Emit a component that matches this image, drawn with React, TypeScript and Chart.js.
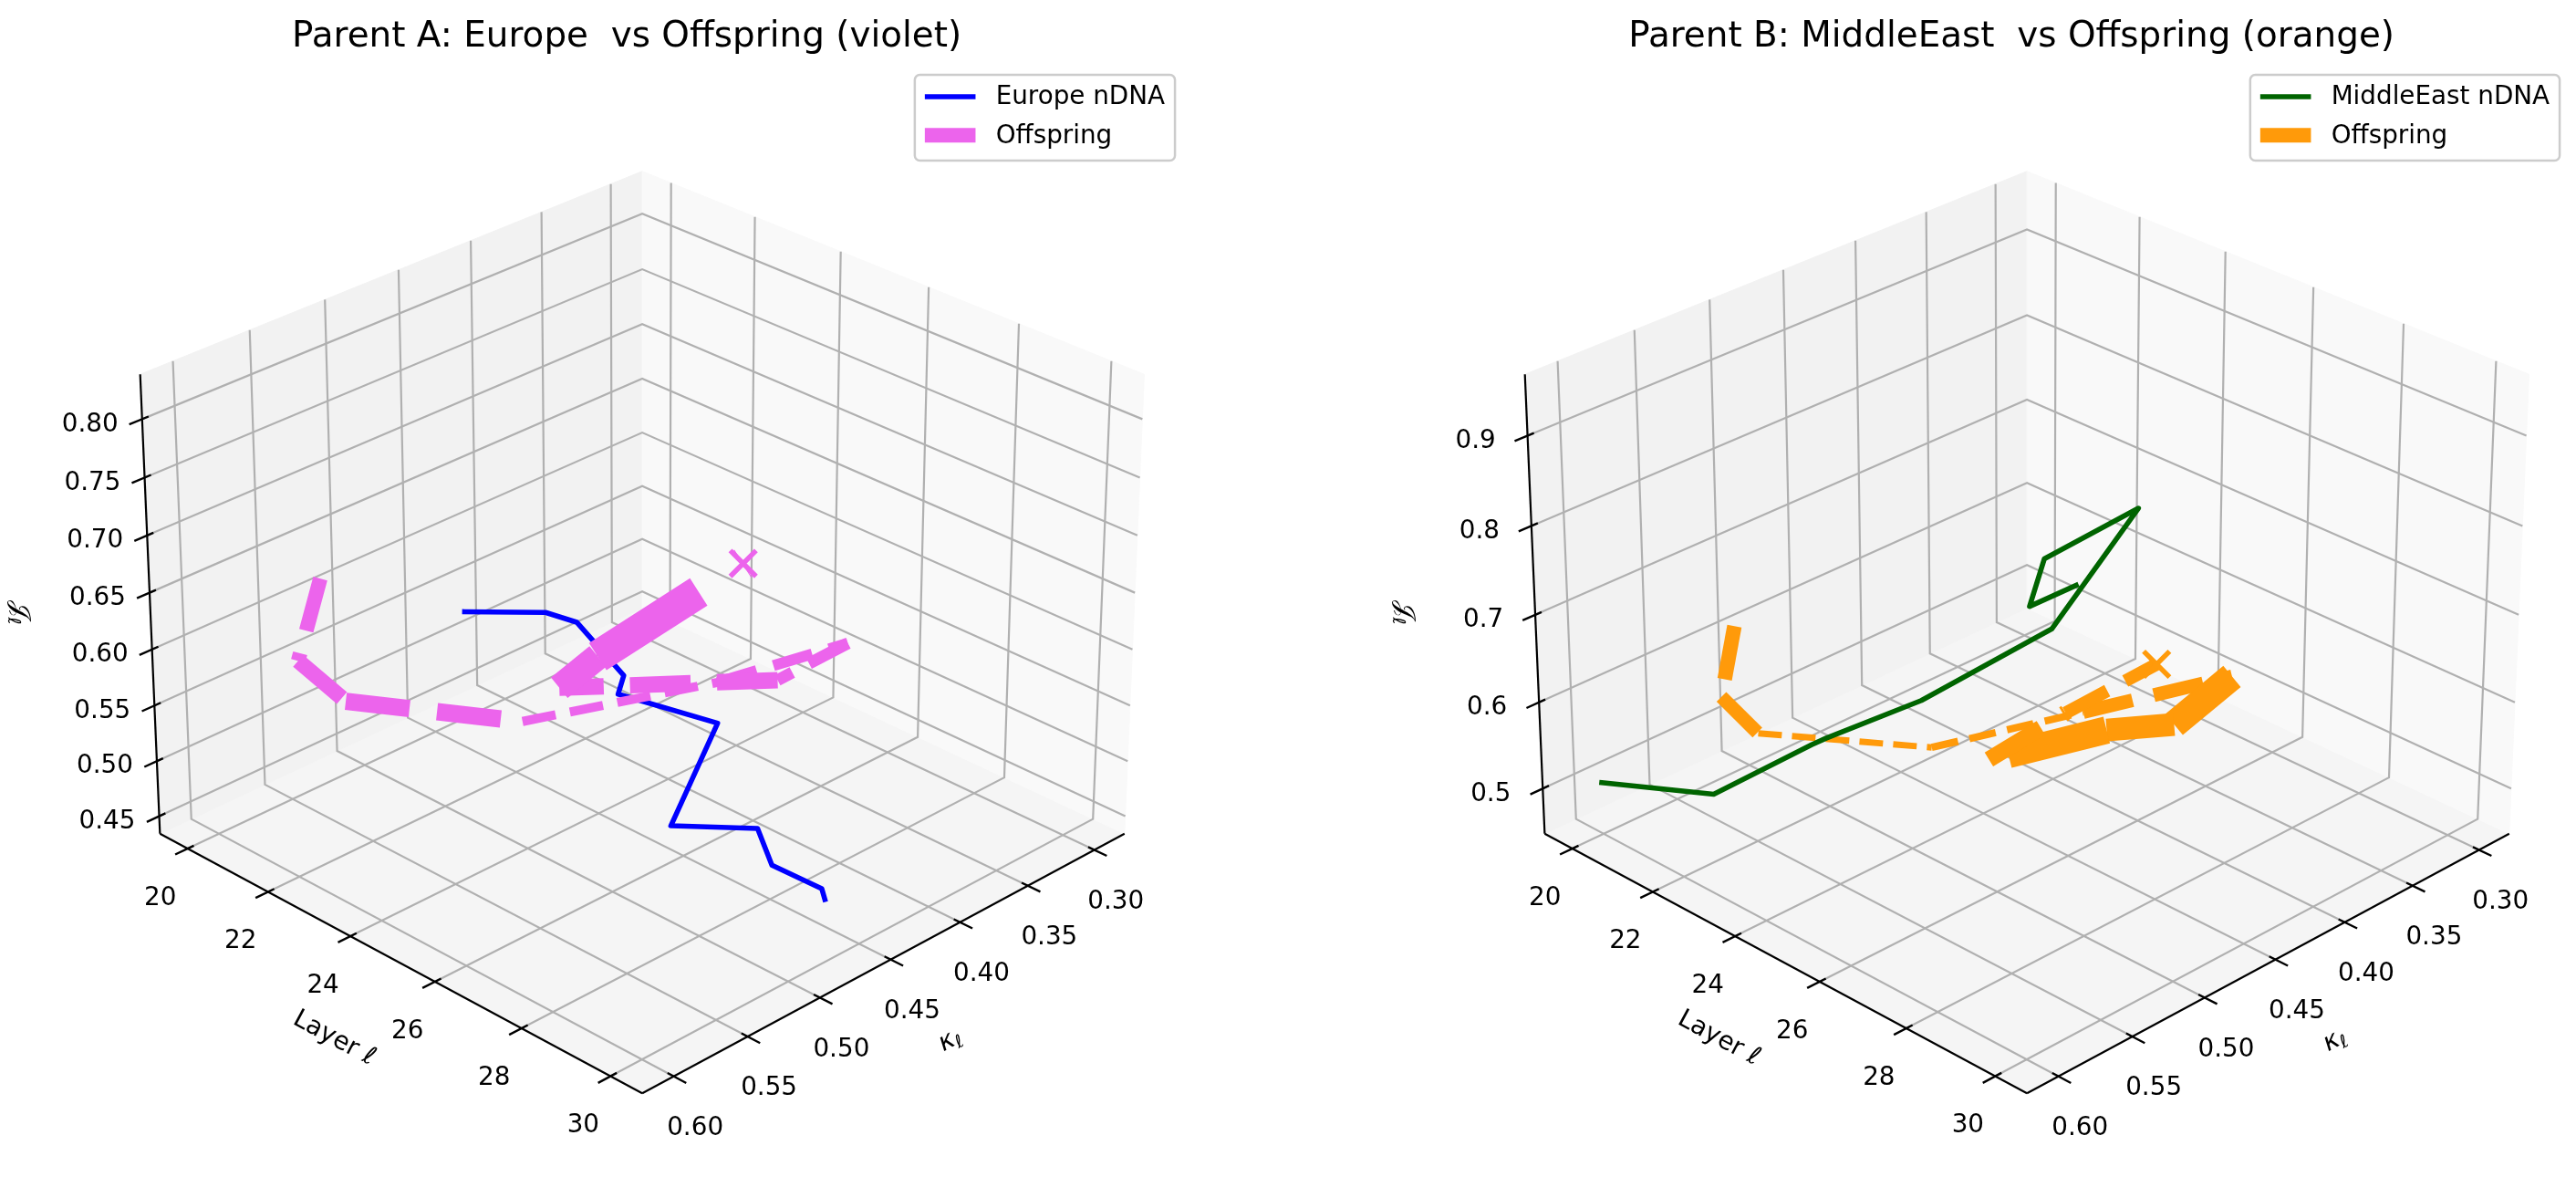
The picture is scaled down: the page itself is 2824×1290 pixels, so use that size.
import React, { useEffect, useRef } from "react";
import { Chart, registerables } from "chart.js";

Chart.register(...registerables);

// ================= data =================
// Left panel: Parent A (Europe)
const europeLayer = [20, 21, 22, 23, 24, 25, 26, 27, 28, 29, 30];
const europeKappa = [0.428, 0.399, 0.406, 0.402, 0.436, 0.395, 0.459, 0.428, 0.449, 0.445, 0.475];
const europeJ = [0.532, 0.532, 0.545, 0.512, 0.534, 0.501, 0.467, 0.464, 0.464, 0.46, 0.49];

const offspringALayer = [20, 21, 22, 23, 24, 25, 26, 27, 28, 30];
const offspringAKappa = [0.527, 0.57, 0.566, 0.474, 0.364, 0.299, 0.383, 0.565, 0.569, 0.534];
const offspringAJ = [0.62, 0.59, 0.57, 0.514, 0.501, 0.516, 0.551, 0.673, 0.72, 0.812];

// Right panel: Parent B (MiddleEast)
const middleEastLayer = [20, 21, 22, 23, 24, 26, 27, 28, 29, 30];
const middleEastKappa = [0.6, 0.552, 0.512, 0.53, 0.493, 0.462, 0.433, 0.528, 0.568, 0.568];
const middleEastJ = [0.507, 0.479, 0.529, 0.575, 0.613, 0.717, 0.852, 0.889, 0.891, 0.936];

const offspringBLayer = [20, 21, 22, 23, 24, 25, 26, 27, 28, 29, 30];
const offspringBKappa = [0.508, 0.545, 0.548, 0.457, 0.378, 0.299, 0.374, 0.454, 0.565, 0.544, 0.514];
const offspringBJ = [0.617, 0.587, 0.571, 0.506, 0.509, 0.513, 0.539, 0.62, 0.7, 0.758, 0.811];

// tick labels
const layerTicks = [20, 22, 24, 26, 28, 30];
const kappaTicks = [0.3, 0.35, 0.4, 0.45, 0.5, 0.55, 0.6];
const jTicksA = [0.45, 0.5, 0.55, 0.6, 0.65, 0.7, 0.75, 0.8];
const jTicksB = [0.5, 0.6, 0.7, 0.8, 0.9];

// ================= styling / view =================
const offspringAWidths = [16, 17, 19, 10, 12, 13, 18, 29, 35.5];
const offspringBWidths = [16, 15, 7, 8, 15, 30, 25, 30, 18, 14];

const ELEV = 28;
const AZIM = 45;
const CAM_DIST = 10;
const BOX = [4, 4, 3].map((v) => (v * 1.8294640721620434) / Math.sqrt(41));
const PANEL_W = 1412;
const PANEL_H = 1290;
const SCALE = 6924;
const FONT = '"DejaVu Sans", "Noto Sans", sans-serif';
const TICK_FS = 27.8;

function makeProjector(lim: any) {
  const e = (ELEV * Math.PI) / 180;
  const a = (AZIM * Math.PI) / 180;
  const R = BOX.map((b) => b / 2);
  const w = [Math.cos(e) * Math.cos(a), Math.cos(e) * Math.sin(a), Math.sin(e)];
  const eye = R.map((r, i) => r + CAM_DIST * w[i]);
  let u = [-w[1], w[0], 0];
  const un = Math.hypot(u[0], u[1], u[2]);
  u = u.map((c) => c / un);
  const v = [
    w[1] * u[2] - w[2] * u[1],
    w[2] * u[0] - w[0] * u[2],
    w[0] * u[1] - w[1] * u[0],
  ];
  const dot = (p: number[], q: number[]) => p[0] * q[0] + p[1] * q[1] + p[2] * q[2];
  const norm = (p: number, q: number, r: number) => {
    const d = [p * BOX[0] - eye[0], q * BOX[1] - eye[1], r * BOX[2] - eye[2]];
    const depth = -dot(w, d);
    return { x: dot(u, d) / depth, y: dot(v, d) / depth, depth };
  };
  const nk = (k: number) => (k - lim.k0) / (lim.k1 - lim.k0);
  const nl = (l: number) => (l - lim.l0) / (lim.l1 - lim.l0);
  const nj = (j: number) => (j - lim.j0) / (lim.j1 - lim.j0);
  const data = (kappa: number, layer: number, j: number) => norm(nk(kappa), nl(layer), nj(j));
  return { norm, data, nk, nl, nj };
}

const panels = [
  {
    title: "Parent A: Europe  vs Offspring (violet)",
    parentLabel: "Europe nDNA",
    parentColor: "#0000ff",
    offColor: "#ec64ec",
    parentLayer: europeLayer,
    parentKappa: europeKappa,
    parentJ: europeJ,
    offLayer: offspringALayer,
    offKappa: offspringAKappa,
    offJ: offspringAJ,
    offWidths: offspringAWidths,
    jTicks: jTicksA,
    jDigits: 2,
    lim: { k0: 0.277, k1: 0.621, l0: 19.3, l1: 30.7, j0: 0.434, j1: 0.838 },
    cx: 704,
    cy: 668,
    left: 0,
    parentOnTop: false,
  },
  {
    title: "Parent B: MiddleEast  vs Offspring (orange)",
    parentLabel: "MiddleEast nDNA",
    parentColor: "#006400",
    offColor: "#ff9a0a",
    parentLayer: middleEastLayer,
    parentKappa: middleEastKappa,
    parentJ: middleEastJ,
    offLayer: offspringBLayer,
    offKappa: offspringBKappa,
    offJ: offspringBJ,
    offWidths: offspringBWidths,
    jTicks: jTicksB,
    jDigits: 1,
    lim: { k0: 0.277, k1: 0.621, l0: 19.3, l1: 30.7, j0: 0.447, j1: 0.967 },
    cx: 814,
    cy: 668,
    left: 1412,
    parentOnTop: true,
  },
];

function drawSubText(ctx: any, main: string, sub: string, mainFont: string, subFont: string) {
  ctx.font = mainFont;
  const wm = ctx.measureText(main).width;
  ctx.font = subFont;
  const ws = ctx.measureText(sub).width;
  const x0 = -(wm + ws) / 2;
  ctx.textAlign = "left";
  ctx.textBaseline = "middle";
  ctx.font = mainFont;
  ctx.fillText(main, x0, 0);
  ctx.font = subFont;
  ctx.fillText(sub, x0 + wm, 7);
}

function box3dPlugin(cfg: any, proj: any) {
  const pix = (chart: any, p: number, q: number, r: number) => {
    const t = proj.norm(p, q, r);
    return [chart.scales.x.getPixelForValue(t.x), chart.scales.y.getPixelForValue(t.y)];
  };
  return {
    id: "box3d",
    beforeDatasetsDraw(chart: any) {
      const ctx = chart.ctx;
      const P = (p: number, q: number, r: number) => pix(chart, p, q, r);
      const path = (pts: number[][]) => {
        ctx.beginPath();
        pts.forEach((pt, i) => {
          const [x, y] = P(pt[0], pt[1], pt[2]);
          if (i === 0) ctx.moveTo(x, y);
          else ctx.lineTo(x, y);
        });
      };
      ctx.save();
      // panes
      const pane = (pts: number[][], color: string) => {
        path(pts);
        ctx.closePath();
        ctx.fillStyle = color;
        ctx.fill();
        ctx.lineWidth = 1;
        ctx.strokeStyle = color;
        ctx.stroke();
      };
      pane([[0, 0, 0], [1, 0, 0], [1, 1, 0], [0, 1, 0]], "rgb(245,245,245)");
      pane([[0, 0, 0], [1, 0, 0], [1, 0, 1], [0, 0, 1]], "rgb(242,242,242)");
      pane([[0, 0, 0], [0, 1, 0], [0, 1, 1], [0, 0, 1]], "rgb(249,249,249)");

      // grid
      ctx.strokeStyle = "#b0b0b0";
      ctx.lineWidth = 2.2;
      ctx.lineCap = "butt";
      ctx.lineJoin = "miter";
      kappaTicks.forEach((k) => {
        const p = proj.nk(k);
        path([[p, 1, 0], [p, 0, 0], [p, 0, 1]]);
        ctx.stroke();
      });
      layerTicks.forEach((l) => {
        const q = proj.nl(l);
        path([[1, q, 0], [0, q, 0], [0, q, 1]]);
        ctx.stroke();
      });
      cfg.jTicks.forEach((j: number) => {
        const r = proj.nj(j);
        path([[1, 0, r], [0, 0, r], [0, 1, r]]);
        ctx.stroke();
      });

      // axis lines
      ctx.strokeStyle = "#000";
      ctx.lineWidth = 2.2;
      path([[0, 1, 0], [1, 1, 0]]);
      ctx.stroke();
      path([[1, 0, 0], [1, 1, 0]]);
      ctx.stroke();
      path([[1, 0, 0], [1, 0, 1]]);
      ctx.stroke();

      // ticks + tick labels
      const TIN = 0.012;
      const TOUT = 0.024;
      ctx.fillStyle = "#000";
      ctx.font = `${TICK_FS}px ${FONT}`;
      ctx.textAlign = "center";
      ctx.textBaseline = "middle";
      ctx.lineWidth = 2.4;
      layerTicks.forEach((l) => {
        const q = proj.nl(l);
        path([[1 - TIN, q, 0], [1 + TOUT, q, 0]]);
        ctx.stroke();
        const [x, y] = P(1, q, 0);
        ctx.fillText(String(l), x - 30, y + 54.5);
      });
      kappaTicks.forEach((k) => {
        const p = proj.nk(k);
        path([[p, 1 - TIN, 0], [p, 1 + TOUT, 0]]);
        ctx.stroke();
        const [x, y] = P(p, 1, 0);
        ctx.fillText(k.toFixed(2), x + 23.5, y + 57);
      });
      cfg.jTicks.forEach((j: number) => {
        const r = proj.nj(j);
        path([[1 - TIN, 0, r], [1 + TOUT, 0, r]]);
        ctx.stroke();
        const [x, y] = P(1, 0, r);
        ctx.fillText(j.toFixed(cfg.jDigits), x - 57, y + 6);
      });

      // axis labels
      const [a0x, a0y] = P(1, 0, 0);
      const [a1x, a1y] = P(1, 1, 0);
      const [mx, my] = P(1, 0.5, 0);
      ctx.save();
      ctx.translate(mx - 64, my + 87.4);
      ctx.rotate(Math.atan2(a1y - a0y, a1x - a0x));
      ctx.textAlign = "center";
      ctx.font = `${TICK_FS}px ${FONT}`;
      ctx.fillText("Layer ℓ", 0, 0);
      ctx.restore();

      const [b1x, b1y] = P(0, 1, 0);
      const [kx, ky] = P(0.5, 1, 0);
      ctx.save();
      ctx.translate(kx + 63.6, ky + 89.4);
      ctx.rotate(Math.atan2(b1y - a1y, b1x - a1x));
      drawSubText(ctx, "κ", "ℓ", `italic ${TICK_FS}px ${FONT}`, `${TICK_FS * 0.7}px ${FONT}`);
      ctx.restore();

      const [cxp, cyp] = P(0.5, 0.5, 0.5);
      ctx.save();
      ctx.translate(cxp - 683, cyp + 4);
      ctx.rotate(Math.PI / 2);
      drawSubText(ctx, "𝒥", "ℓ", `${TICK_FS}px ${FONT}`, `${TICK_FS * 0.7}px ${FONT}`);
      ctx.restore();

      ctx.restore();
    },
    afterDraw(chart: any) {
      const ctx = chart.ctx;
      const [cxp] = pix(chart, 0.5, 0.5, 0.5);
      ctx.save();
      // title
      ctx.fillStyle = "#000";
      ctx.font = `38.9px ${FONT}`;
      ctx.textAlign = "center";
      ctx.textBaseline = "alphabetic";
      ctx.fillText(cfg.title, cxp - 17, 51);

      // legend
      ctx.font = `${TICK_FS}px ${FONT}`;
      const entries = [
        { label: cfg.parentLabel, color: cfg.parentColor, width: 5.6, cap: "square" },
        { label: "Offspring", color: cfg.offColor, width: cfg.offWidths[0], cap: "butt" },
      ];
      const tw = Math.max(...entries.map((e) => ctx.measureText(e.label).width));
      const right = cxp + 584;
      const top = 82;
      const width = tw + 11 + 55.6 + 22.2 + 11;
      const height = 94;
      const left = right - width;
      const rad = 5.6;
      ctx.beginPath();
      ctx.moveTo(left + rad, top);
      ctx.lineTo(right - rad, top);
      ctx.arcTo(right, top, right, top + rad, rad);
      ctx.lineTo(right, top + height - rad);
      ctx.arcTo(right, top + height, right - rad, top + height, rad);
      ctx.lineTo(left + rad, top + height);
      ctx.arcTo(left, top + height, left, top + height - rad, rad);
      ctx.lineTo(left, top + rad);
      ctx.arcTo(left, top, left + rad, top, rad);
      ctx.closePath();
      ctx.fillStyle = "rgba(255,255,255,0.8)";
      ctx.fill();
      ctx.strokeStyle = "#cccccc";
      ctx.lineWidth = 2.5;
      ctx.stroke();
      entries.forEach((e, i) => {
        const y = top + 24 + i * 42.3;
        ctx.beginPath();
        ctx.strokeStyle = e.color;
        ctx.lineWidth = e.width;
        ctx.lineCap = e.cap;
        ctx.moveTo(left + 11 + (e.cap === "square" ? e.width / 2 : 0), y);
        ctx.lineTo(left + 66.6 - (e.cap === "square" ? e.width / 2 : 0), y);
        ctx.stroke();
        ctx.fillStyle = "#000";
        ctx.textAlign = "left";
        ctx.textBaseline = "middle";
        ctx.fillText(e.label, left + 88.8, y + 1);
      });
      ctx.restore();
    },
  };
}

function Panel({ cfg }: { cfg: any }) {
  const ref = useRef<HTMLCanvasElement | null>(null);
  useEffect(() => {
    const canvas = ref.current;
    if (!canvas) return;
    const proj = makeProjector(cfg.lim);
    const datasets: any[] = [];

    const parentPts = cfg.parentLayer.map((l: number, i: number) =>
      proj.data(cfg.parentKappa[i], l, cfg.parentJ[i])
    );
    datasets.push({
      label: cfg.parentLabel,
      data: parentPts,
      borderColor: cfg.parentColor,
      backgroundColor: cfg.parentColor,
      borderWidth: 5.6,
      borderCapStyle: "square",
      borderJoinStyle: "round",
      pointRadius: 0,
      tension: 0,
      fill: false,
      order: cfg.parentOnTop ? -50 : 50,
    });

    const offPts = cfg.offLayer.map((l: number, i: number) => proj.data(cfg.offKappa[i], l, cfg.offJ[i]));
    for (let i = 0; i < offPts.length - 1; i++) {
      const w = cfg.offWidths[i];
      const depth = (offPts[i].depth + offPts[i + 1].depth) / 2;
      datasets.push({
        label: "Offspring",
        data: [offPts[i], offPts[i + 1]],
        borderColor: cfg.offColor,
        backgroundColor: cfg.offColor,
        borderWidth: w,
        borderDash: [3.7 * w, 1.6 * w],
        borderCapStyle: "butt",
        borderJoinStyle: "round",
        pointRadius: 0,
        tension: 0,
        fill: false,
        order: (depth - 10) * 10,
      });
    }
    datasets.push({
      label: "Offspring end",
      data: [offPts[offPts.length - 1]],
      showLine: false,
      pointStyle: "crossRot",
      pointRadius: 20,
      pointBorderWidth: 5.5,
      pointBorderColor: cfg.offColor,
      pointBackgroundColor: cfg.offColor,
      order: -100,
    });

    const chart = new Chart(canvas, {
      type: "line",
      data: { datasets },
      options: {
        animation: false,
        responsive: false,
        maintainAspectRatio: false,
        devicePixelRatio: 1,
        events: [],
        layout: { padding: 0 },
        plugins: {
          legend: { display: false },
          title: { display: false },
          tooltip: { enabled: false },
        },
        scales: {
          x: { type: "linear", min: -cfg.cx / SCALE, max: (PANEL_W - cfg.cx) / SCALE, display: false },
          y: { type: "linear", min: (cfg.cy - PANEL_H) / SCALE, max: cfg.cy / SCALE, display: false },
        },
      },
      plugins: [box3dPlugin(cfg, proj)],
    } as any);
    return () => chart.destroy();
  }, [cfg]);
  return (
    <canvas
      ref={ref}
      width={PANEL_W}
      height={PANEL_H}
      style={{ position: "absolute", left: cfg.left, top: 0, width: PANEL_W, height: PANEL_H }}
    />
  );
}

export default function App() {
  return (
    <div
      style={{
        position: "fixed",
        left: 0,
        top: 0,
        width: 2824,
        height: 1290,
        background: "#ffffff",
        overflow: "hidden",
      }}
    >
      {panels.map((p, i) => (
        <Panel key={i} cfg={p} />
      ))}
    </div>
  );
}
